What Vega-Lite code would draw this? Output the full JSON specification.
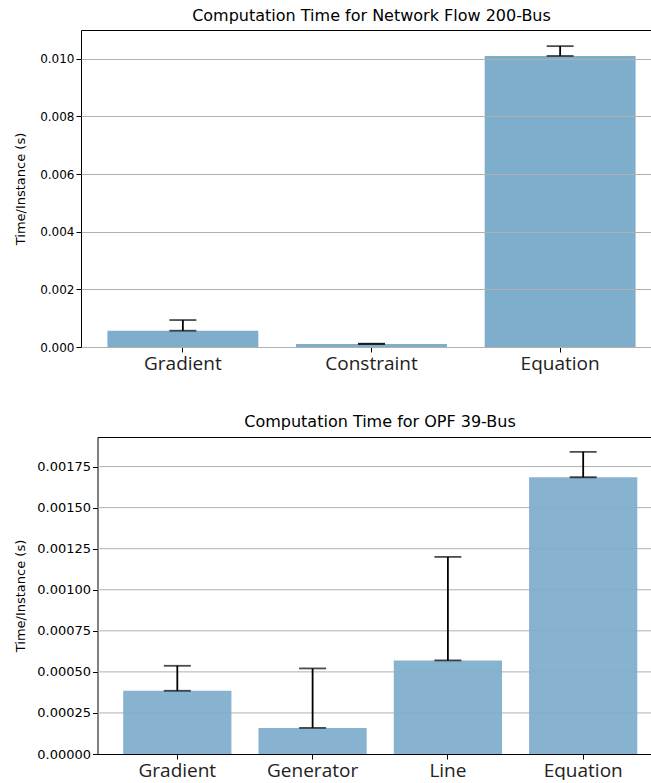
{
  "$schema": "https://vega.github.io/schema/vega-lite/v6.json",
  "padding": {"left": 14, "top": 7, "right": 0, "bottom": 0},
  "background": "white",
  "spacing": 40,
  "config": {
    "view": {"stroke": "black", "strokeWidth": 1},
    "title": {"font": "DejaVu Sans", "fontSize": 16, "fontWeight": "normal", "color": "black", "baseline": "alphabetic", "anchor": "middle"},
    "axis": {"domainColor": "black", "domainWidth": 1, "tickColor": "black", "tickSize": 5, "labelColor": "black", "titleColor": "black"}
  },
  "datasets": {
    "nf200": [
      {"category": "Gradient", "time": 0.000566, "upper": 0.000935},
      {"category": "Constraint", "time": 0.000104, "upper": 0.000115},
      {"category": "Equation", "time": 0.0101, "upper": 0.01044}
    ],
    "opf39": [
      {"category": "Gradient", "time": 0.000385, "upper": 0.000537},
      {"category": "Generator", "time": 0.000159, "upper": 0.000521},
      {"category": "Line", "time": 0.00057, "upper": 0.0012},
      {"category": "Equation", "time": 0.001685, "upper": 0.00184}
    ],
    "grid39": [
      {"v": 0.00025}, {"v": 0.0005}, {"v": 0.00075}, {"v": 0.001},
      {"v": 0.00125}, {"v": 0.0015}, {"v": 0.00175}
    ]
  },
  "vconcat": [
    {
      "width": 581,
      "height": 317,
      "title": {"text": "Computation Time for Network Flow 200-Bus", "offset": 6},
      "data": {"name": "nf200"},
      "encoding": {
        "x": {
          "field": "category", "type": "nominal", "sort": null,
          "scale": {"paddingInner": 0.2, "paddingOuter": 0.14},
          "axis": {"title": null, "labelAngle": 0, "labelFont": "Open Sans", "labelFontSize": 19, "labelColor": "#222222", "labelPadding": 2, "grid": false, "domain": false}
        }
      },
      "layer": [
        {
          "mark": {"type": "bar", "color": "#7fadcc"},
          "encoding": {
            "y": {
              "field": "time", "type": "quantitative",
              "scale": {"domain": [0, 0.011], "nice": false},
              "axis": {
                "title": "Time/Instance (s)", "titleFont": "DejaVu Sans", "titleFontSize": 13, "titleFontWeight": "normal", "titlePadding": 12,
                "values": [0, 0.002, 0.004, 0.006, 0.008, 0.01], "format": ".3f",
                "labelFont": "DejaVu Sans", "labelFontSize": 12, "labelPadding": 2,
                "grid": true, "gridColor": "#b0b0b0", "gridWidth": 1, "zindex": 1, "domain": false
              }
            }
          }
        },
        {
          "mark": {"type": "rule", "color": "black", "strokeWidth": 1.8},
          "encoding": {"y": {"field": "time", "type": "quantitative"}, "y2": {"field": "upper"}}
        },
        {
          "mark": {"type": "tick", "color": "black", "thickness": 1.8, "size": 27},
          "encoding": {"y": {"field": "upper", "type": "quantitative"}}
        },
        {
          "mark": {"type": "tick", "color": "black", "thickness": 1.8, "size": 27},
          "encoding": {"y": {"field": "time", "type": "quantitative"}}
        }
      ]
    },
    {
      "width": 582,
      "height": 317,
      "view": {"stroke": null},
      "title": {"text": "Computation Time for OPF 39-Bus", "offset": 7, "dx": 8},
      "resolve": {"scale": {"x": "independent", "y": "independent"}},
      "layer": [
        {
          "data": {"name": "grid39"},
          "mark": {"type": "rule", "color": "#b0b0b0", "strokeWidth": 1},
          "encoding": {
            "x": {
              "datum": 0, "type": "quantitative",
              "scale": {"domain": [0, 1], "range": [16.5, 582]},
              "axis": {"orient": "top", "title": null, "labels": false, "ticks": false, "grid": false, "domain": true}
            },
            "x2": {"datum": 1},
            "y": {"field": "v", "type": "quantitative", "scale": {"domain": [0, 0.00193], "nice": false}, "axis": null}
          }
        },
        {
          "data": {"name": "opf39"},
          "encoding": {
            "x": {
              "field": "category", "type": "nominal", "sort": null,
              "scale": {"paddingInner": 0.2, "paddingOuter": 0.19, "range": [16.5, 582]},
              "axis": {"title": null, "labelAngle": 0, "labelFont": "Open Sans", "labelFontSize": 19, "labelColor": "#222222", "labelPadding": 2, "grid": false, "domain": true}
            }
          },
          "layer": [
            {
              "mark": {"type": "bar", "color": "#7fadcc", "opacity": 0.93},
              "encoding": {
                "y": {
                  "field": "time", "type": "quantitative",
                  "scale": {"domain": [0, 0.00193], "nice": false},
                  "axis": {
                    "title": "Time/Instance (s)", "titleFont": "DejaVu Sans", "titleFontSize": 13, "titleFontWeight": "normal", "titlePadding": 9.5,
                    "values": [0, 0.00025, 0.0005, 0.00075, 0.001, 0.00125, 0.0015, 0.00175], "format": ".5f",
                    "labelFont": "DejaVu Sans", "labelFontSize": 13, "labelPadding": 2, "offset": -16.5,
                    "grid": false, "domain": true
                  }
                }
              }
            },
            {
              "mark": {"type": "rule", "color": "black", "strokeWidth": 1.8},
              "encoding": {"y": {"field": "time", "type": "quantitative"}, "y2": {"field": "upper"}}
            },
            {
              "mark": {"type": "tick", "color": "black", "thickness": 1.8, "size": 27},
              "encoding": {"y": {"field": "upper", "type": "quantitative"}}
            },
            {
              "mark": {"type": "tick", "color": "black", "thickness": 1.8, "size": 27},
              "encoding": {"y": {"field": "time", "type": "quantitative"}}
            }
          ]
        }
      ]
    }
  ]
}
